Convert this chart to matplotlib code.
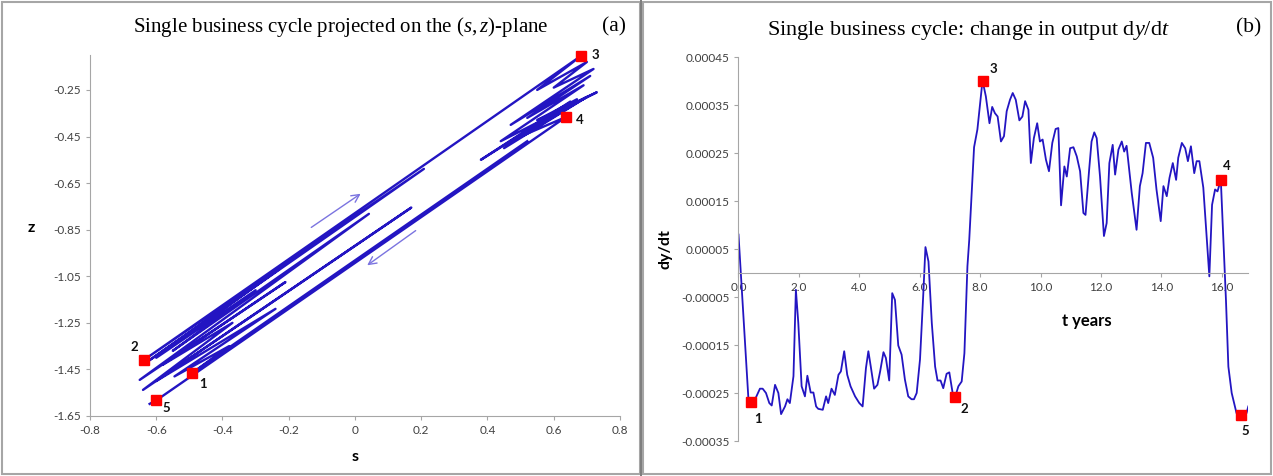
import numpy as np
import matplotlib
matplotlib.use("Agg")
import matplotlib.pyplot as plt
from matplotlib.patches import Rectangle
from matplotlib.ticker import FixedLocator, FuncFormatter

plt.rcParams['font.family'] = ['Lato', 'DejaVu Sans']
plt.rcParams['mathtext.fontset'] = 'custom'
plt.rcParams['mathtext.rm'] = 'Liberation Serif'
plt.rcParams['mathtext.it'] = 'Liberation Serif:italic'

# ---- panel (a): trajectory in the (s,z) plane, turning points
s_vals = [0.52, -0.493, -0.38, -0.545, -0.24, -0.60, 0.17, -0.64, -0.37, -0.58,
          -0.21, -0.65, 0.042, -0.55, -0.30, -0.60, -0.23, -0.63, 0.208, -0.637,
          0.682, 0.55, 0.70, 0.60, 0.72, 0.47, 0.71, 0.52, 0.69, 0.44,
          0.73, 0.55, 0.67, 0.38, 0.65, 0.45, 0.70, 0.50, 0.637, -0.60, -0.62]
z_vals = [-0.47, -1.467, -1.35, -1.48, -1.19, -1.50, -0.755, -1.538, -1.25, -1.43,
          -1.075, -1.495, -0.782, -1.37, -1.11, -1.40, -1.02, -1.42, -0.589, -1.409,
          -0.104, -0.25, -0.13, -0.24, -0.16, -0.40, -0.19, -0.37, -0.23, -0.47,
          -0.26, -0.38, -0.29, -0.55, -0.30, -0.50, -0.28, -0.45, -0.366, -1.583, -1.598]
sz_marks = [1, 19, 20, 38, 39]          # points 1..5
sz_labels = ['1', '2', '3', '4', '5']
sz_label_off = [(11, -11), (-10, 13), (14, 1), (14, -3), (10, -8)]

# ---- panel (b): dy/dt against time in years
t_years = [0.00, 0.33, 0.40, 0.55, 0.71, 0.80, 0.91, 1.02, 1.10, 1.21,
           1.32, 1.41, 1.54, 1.62, 1.70, 1.82, 1.90, 1.98, 2.09, 2.20,
           2.28, 2.39, 2.48, 2.57, 2.64, 2.79, 2.90, 2.97, 3.08, 3.19,
           3.31, 3.39, 3.50, 3.60, 3.71, 3.86, 4.00, 4.11, 4.22, 4.30,
           4.38, 4.49, 4.60, 4.69, 4.80, 4.88, 4.99, 5.09, 5.18, 5.29,
           5.40, 5.51, 5.62, 5.73, 5.81, 5.90, 6.01, 6.12, 6.19, 6.29,
           6.40, 6.51, 6.59, 6.69, 6.78, 6.89, 6.98, 7.09, 7.17, 7.28,
           7.39, 7.48, 7.58, 7.64, 7.80, 7.91, 8.08, 8.19, 8.31, 8.40,
           8.49, 8.58, 8.69, 8.79, 8.88, 8.99, 9.08, 9.18, 9.30, 9.40,
           9.49, 9.60, 9.68, 9.78, 9.89, 9.98, 10.07, 10.18, 10.28, 10.39,
           10.50, 10.59, 10.68, 10.79, 10.87, 10.98, 11.09, 11.20, 11.31, 11.42,
           11.49, 11.61, 11.69, 11.78, 11.86, 11.97, 12.10, 12.19, 12.28, 12.39,
           12.47, 12.58, 12.69, 12.77, 12.85, 13.02, 13.18, 13.29, 13.38, 13.49,
           13.60, 13.73, 13.84, 13.98, 14.07, 14.18, 14.27, 14.38, 14.49, 14.56,
           14.68, 14.79, 14.88, 14.98, 15.09, 15.17, 15.26, 15.39, 15.59, 15.68,
           15.78, 15.86, 15.97, 16.14, 16.22, 16.33, 16.49, 16.65, 16.82, 16.88]
# values in units of 1e-4
dydt_e4 = [0.80, -2.64, -2.69, -2.63, -2.41, -2.41, -2.50, -2.71, -2.76, -2.33,
           -2.50, -2.94, -2.78, -2.63, -2.71, -2.15, -0.35, -1.04, -2.36, -2.57,
           -2.14, -2.49, -2.49, -2.78, -2.83, -2.85, -2.57, -2.71, -2.41, -2.54,
           -2.12, -2.05, -1.63, -2.12, -2.36, -2.57, -2.71, -2.78, -1.98, -1.63,
           -1.95, -2.41, -2.33, -2.05, -1.65, -1.77, -2.24, -0.42, -0.56, -1.51,
           -1.70, -2.22, -2.57, -2.63, -2.63, -2.50, -1.80, -0.42, 0.54, 0.24,
           -1.04, -1.95, -2.24, -2.24, -2.40, -2.10, -2.07, -2.50, -2.59, -2.36,
           -2.26, -1.67, 0.14, 0.69, 2.62, 2.99, 4.01, 3.68, 3.12, 3.46,
           3.33, 3.26, 2.74, 2.85, 3.37, 3.61, 3.75, 3.61, 3.18, 3.26,
           3.58, 3.40, 2.29, 2.81, 3.12, 2.74, 2.78, 2.36, 2.12, 2.71,
           3.00, 3.02, 1.41, 2.22, 2.01, 2.60, 2.62, 2.43, 2.12, 1.25,
           1.21, 2.15, 2.74, 2.93, 2.81, 2.01, 0.77, 1.04, 2.29, 2.67,
           2.05, 2.57, 2.74, 2.53, 2.65, 1.67, 0.90, 1.81, 2.08, 2.71,
           2.71, 2.40, 1.74, 1.08, 1.81, 1.60, 1.98, 2.29, 1.94, 2.40,
           2.71, 2.60, 2.33, 2.64, 2.08, 2.33, 2.33, 1.78, -0.07, 1.42,
           1.74, 1.70, 1.94, -0.56, -1.95, -2.50, -2.92, -2.95, -2.92, -2.78]
ty_marks = [2, 68, 76, 152, 157]
ty_labels = ['1', '2', '3', '4', '5']
ty_label_off = [(7, -17), (9, -12), (11, 12), (6, 14), (4, -16)]

line_col = '#2315c2'
grid_col = '#a6a6a6'
tick_kw = dict(labelsize=8.5, colors=grid_col, labelcolor='#404040', length=3, width=0.8)

fig = plt.figure(figsize=(12.73, 4.76), dpi=100)

# panel frames
fig.patches.append(Rectangle((2 / 1273, 2 / 476), 638 / 1273, 472 / 476, transform=fig.transFigure,
                             fill=False, edgecolor=grid_col, linewidth=1.5))
fig.patches.append(Rectangle((643 / 1273, 2 / 476), 628 / 1273, 472 / 476, transform=fig.transFigure,
                             fill=False, edgecolor=grid_col, linewidth=1.5))
fig.patches.append(Rectangle((640 / 1273, 0), 2 / 1273, 1, transform=fig.transFigure,
                             color='#7f7f7f', linewidth=0))

# ---------------- (a)
ax1 = fig.add_axes([90 / 1273, 1 - 416 / 476, 530 / 1273, 361 / 476])
ax1.plot(s_vals, z_vals, color=line_col, linewidth=1.7, zorder=2)
ax1.plot([s_vals[i] for i in sz_marks], [z_vals[i] for i in sz_marks], 's',
         color='#ff0000', markersize=7.5, zorder=3, clip_on=False)
for i, lab, off in zip(sz_marks, sz_labels, sz_label_off):
    ax1.annotate(lab, (s_vals[i], z_vals[i]), xytext=off, textcoords='offset pixels',
                 ha='center', va='center', fontsize=9.5, fontweight='bold', color='#111111')
ax1.annotate('', xy=(0.024, -0.689), xytext=(-0.139, -0.847),
             arrowprops=dict(arrowstyle='->', color='#7b74e0', lw=1.0, mutation_scale=14))
ax1.annotate('', xy=(0.030, -1.010), xytext=(0.190, -0.847),
             arrowprops=dict(arrowstyle='->', color='#7b74e0', lw=1.0, mutation_scale=14))
ax1.set_xlim(-0.8, 0.8)
ax1.set_ylim(-1.65, -0.10)
ax1.xaxis.set_major_locator(FixedLocator(np.arange(-0.8, 0.81, 0.2)))
ax1.xaxis.set_major_formatter(FuncFormatter(lambda v, p: '0' if abs(v) < 1e-9 else f'{v:.1f}'))
ax1.yaxis.set_major_locator(FixedLocator(np.arange(-1.65, -0.2, 0.2)))
ax1.yaxis.set_major_formatter(FuncFormatter(lambda v, p: f'{v:.2f}'))
for side in ['top', 'right']:
    ax1.spines[side].set_visible(False)
for side in ['left', 'bottom']:
    ax1.spines[side].set_color(grid_col)
ax1.tick_params(**tick_kw)
ax1.set_xlabel('s', fontsize=11.5, fontweight='bold', labelpad=10)
ax1.set_ylabel('z', fontsize=11.5, fontweight='bold', rotation=0, labelpad=16)
fig.text(341 / 1273, 1 - 27 / 476, r'Single business cycle projected on the ($\mathit{s,z}$)-plane',
         family='Liberation Serif', fontsize=15, ha='center', va='center')
fig.text(614 / 1273, 1 - 27 / 476, '(a)', family='Liberation Serif', fontsize=15.5,
         ha='center', va='center')

# ---------------- (b)
ax2 = fig.add_axes([738.5 / 1273, 1 - 441 / 476, 509.5 / 1273, 384 / 476])
dydt = [v * 1e-4 for v in dydt_e4]
ax2.plot(t_years, dydt, color=line_col, linewidth=1.3, zorder=2)
ax2.plot([t_years[i] for i in ty_marks], [dydt[i] for i in ty_marks], 's',
         color='#ff0000', markersize=7.5, zorder=3, clip_on=False)
for i, lab, off in zip(ty_marks, ty_labels, ty_label_off):
    ax2.annotate(lab, (t_years[i], dydt[i]), xytext=off, textcoords='offset pixels',
                 ha='center', va='center', fontsize=9.5, fontweight='bold', color='#111111')
ax2.set_xlim(0, 16.87)
ax2.set_ylim(-0.00035, 0.00045)
ax2.xaxis.set_major_locator(FixedLocator(np.arange(0, 16.1, 2.0)))
ax2.xaxis.set_major_formatter(FuncFormatter(lambda v, p: f'{v:.1f}'))
ax2.yaxis.set_major_locator(FixedLocator(np.arange(-0.00035, 0.00046, 0.0001)))
ax2.yaxis.set_major_formatter(FuncFormatter(lambda v, p: f'{v:.5f}'))
ax2.spines['bottom'].set_position(('data', 0))
for side in ['top', 'right']:
    ax2.spines[side].set_visible(False)
for side in ['left', 'bottom']:
    ax2.spines[side].set_color(grid_col)
ax2.tick_params(**tick_kw)
ax2.text(11.54, -0.0001, 't years', fontsize=12, fontweight='bold', ha='center', va='center')
ax2.set_ylabel('dy/dt', fontsize=11.5, fontweight='bold', labelpad=6)
fig.text(968 / 1273, 1 - 30 / 476, r'Single business cycle: change in output d$\mathit{y}$/d$\mathit{t}$',
         family='Liberation Serif', fontsize=16, ha='center', va='center')
fig.text(1249 / 1273, 1 - 28 / 476, '(b)', family='Liberation Serif', fontsize=15.5,
         ha='center', va='center')

fig.savefig('out.png', dpi=100)
